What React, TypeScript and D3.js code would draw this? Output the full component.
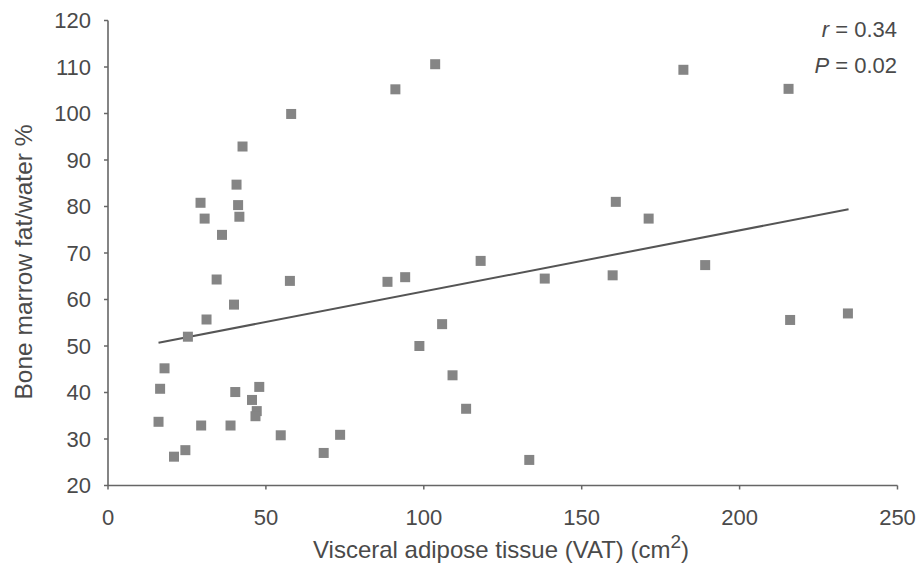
import React from "react";
import * as d3 from "d3";

const vat = [58, 42.6, 40.7, 41.2, 41.6, 29.3, 30.6, 36.1, 34.4, 57.6, 39.9, 31.2, 25.3, 17.9, 16.5, 40.3, 47.9, 45.6, 47.1, 46.7, 16.0, 29.5, 38.8, 54.7, 24.5, 20.9, 68.3, 103.6, 91.0, 160.8, 118.0, 88.5, 94.1, 138.3, 159.8, 105.8, 98.6, 109.1, 113.4, 73.5, 133.4, 182.2, 215.5, 171.2, 189.1, 216.0, 234.3];
const fatWater = [99.9, 92.9, 84.7, 80.3, 77.8, 80.8, 77.4, 73.9, 64.3, 64.0, 58.9, 55.7, 52.0, 45.2, 40.8, 40.1, 41.2, 38.4, 36.0, 34.9, 33.7, 32.9, 32.9, 30.8, 27.6, 26.2, 27.0, 110.6, 105.2, 81.0, 68.3, 63.8, 64.8, 64.5, 65.2, 54.7, 50.0, 43.7, 36.5, 30.9, 25.5, 109.4, 105.3, 77.4, 67.4, 55.6, 57.0];
const fitX = [16.0, 234.5];
const fitY = [50.7, 79.4];
const xTicks = [0, 50, 100, 150, 200, 250];
const yTicks = [20, 30, 40, 50, 60, 70, 80, 90, 100, 110, 120];

const W = 919, H = 570;
const font = "'Liberation Sans', Arial, Helvetica, sans-serif";
const textColor = "#4a4a4a";
const axisColor = "#666";

export default function App() {
  const x = d3.scaleLinear().domain([0, 250]).range([108, 897.5]);
  const y = d3.scaleLinear().domain([20, 120]).range([485.5, 20.5]);
  const line = d3.line<number>().x((_, i) => x(fitX[i])).y((d) => y(d));
  const sq = 10;
  return (
    <svg width={W} height={H} style={{ position: "absolute", left: 0, top: 0, background: "#fff" }}>
      <rect width={W} height={H} fill="#fff" />
      <line x1={x(0)} x2={x(0)} y1={y(120)} y2={y(20)} stroke={axisColor} strokeWidth={1.6} />
      <line x1={x(0)} x2={x(250)} y1={y(20)} y2={y(20)} stroke={axisColor} strokeWidth={1.6} />
      {yTicks.map((t) => (
        <g key={"y" + t}>
          <line x1={x(0) - 4} x2={x(0)} y1={y(t)} y2={y(t)} stroke={axisColor} strokeWidth={1.5} />
          <text x={91} y={y(t)} dy="0.36em" textAnchor="end" fontFamily={font} fontSize={22} fill={textColor}>{t}</text>
        </g>
      ))}
      {xTicks.map((t) => (
        <g key={"x" + t}>
          <line x1={x(t)} x2={x(t)} y1={y(20)} y2={y(20) + 4} stroke={axisColor} strokeWidth={1.5} />
          <text x={x(t)} y={525} textAnchor="middle" fontFamily={font} fontSize={22} fill={textColor}>{t}</text>
        </g>
      ))}
      <text x={501} y={557.5} textAnchor="middle" fontFamily={font} fontSize={24} fill={textColor}>
        Visceral adipose tissue (VAT) (cm<tspan dy={-10} fontSize={19}>2</tspan><tspan dy={10}>)</tspan>
      </text>
      <text transform={`translate(32,${262}) rotate(-90)`} textAnchor="middle" fontFamily={font} fontSize={24.5} fill={textColor}>
        Bone marrow fat/water %
      </text>
      <path d={line(fitY) || ""} fill="none" stroke="#555" strokeWidth={2} />
      {vat.map((v, i) => (
        <rect key={i} x={x(v) - sq / 2} y={y(fatWater[i]) - sq / 2} width={sq} height={sq} fill="#858585" />
      ))}
      <text x={897} y={37} textAnchor="end" fontFamily={font} fontSize={22} fill={textColor}>
        <tspan fontStyle="italic">r</tspan> = 0.34
      </text>
      <text x={897} y={73} textAnchor="end" fontFamily={font} fontSize={22} fill={textColor}>
        <tspan fontStyle="italic">P</tspan> = 0.02
      </text>
    </svg>
  );
}
